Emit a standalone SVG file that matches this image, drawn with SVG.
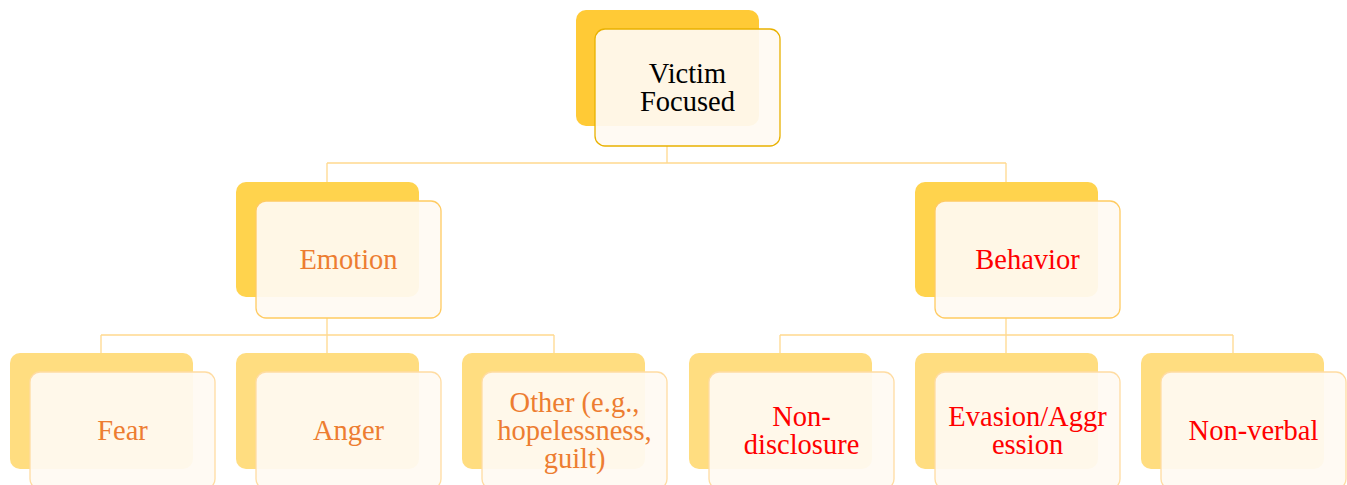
<svg xmlns="http://www.w3.org/2000/svg" width="1347" height="485" viewBox="0 0 1347 485">
<style>
text{font-family:"Liberation Serif","Times New Roman",serif;font-size:28.5px;text-anchor:middle}
.k{fill:#000}.o{fill:#ED7D31}.r{fill:#FF0000}
.b1{fill:#FFCA36}.b2{fill:#FFD34D}.b3{fill:#FFDD80}
.f{fill:#FFFAF2;fill-opacity:0.93;stroke-width:1.3}
.s1{stroke:#E9B100}.s2{stroke:#FFCB62}.s3{stroke:#FFDCA2}
.c{fill:none;stroke:#FFD98F;stroke-width:1.3}
</style>
<rect width="1347" height="485" fill="#fff"/>
<g id="connectors">
<path class="c" d="M667 146V163M327 163H1006M327 163V182M1006 163V182"/>
<path class="c" d="M327 318V335M101 335H554M101 335V353M327 335V353M554 335V353"/>
<path class="c" d="M1006 318V335M780 335H1233M780 335V353M1006 335V353M1233 335V353"/>
</g>
<g id="victim-focused">
<rect class="b1" x="576" y="10" width="183" height="116" rx="10"/>
<rect class="f s1" x="595" y="29" width="185" height="117" rx="10"/>
<text class="k" x="687.5" y="83">Victim</text>
<text class="k" x="687.5" y="111">Focused</text>
</g>
<g id="emotion">
<rect class="b2" x="236" y="182" width="183" height="115" rx="10"/>
<rect class="f s2" x="256" y="201" width="185" height="117" rx="10"/>
<text class="o" x="348.5" y="269">Emotion</text>
</g>
<g id="behavior">
<rect class="b2" x="915" y="182" width="183" height="115" rx="10"/>
<rect class="f s2" x="935" y="201" width="185" height="117" rx="10"/>
<text class="r" x="1027.5" y="269">Behavior</text>
</g>
<g id="fear">
<rect class="b3" x="10" y="353" width="183" height="116" rx="10"/>
<rect class="f s3" x="30" y="372" width="185" height="117" rx="10"/>
<text class="o" x="122.5" y="440">Fear</text>
</g>
<g id="anger">
<rect class="b3" x="236" y="353" width="183" height="116" rx="10"/>
<rect class="f s3" x="256" y="372" width="185" height="117" rx="10"/>
<text class="o" x="348.5" y="440">Anger</text>
</g>
<g id="other">
<rect class="b3" x="462" y="353" width="183" height="116" rx="10"/>
<rect class="f s3" x="482" y="372" width="185" height="117" rx="10"/>
<text class="o" x="574.5" y="412">Other (e.g.,</text>
<text class="o" x="574.5" y="440">hopelessness,</text>
<text class="o" x="574.5" y="468">guilt)</text>
</g>
<g id="non-disclosure">
<rect class="b3" x="689" y="353" width="183" height="116" rx="10"/>
<rect class="f s3" x="709" y="372" width="185" height="117" rx="10"/>
<text class="r" x="801.5" y="426">Non-</text>
<text class="r" x="801.5" y="454">disclosure</text>
</g>
<g id="evasion">
<rect class="b3" x="915" y="353" width="183" height="116" rx="10"/>
<rect class="f s3" x="935" y="372" width="185" height="117" rx="10"/>
<text class="r" x="1027.5" y="426">Evasion/Aggr</text>
<text class="r" x="1027.5" y="454">ession</text>
</g>
<g id="non-verbal">
<rect class="b3" x="1141" y="353" width="183" height="116" rx="10"/>
<rect class="f s3" x="1161" y="372" width="185" height="117" rx="10"/>
<text class="r" x="1253.5" y="440">Non-verbal</text>
</g>
</svg>
